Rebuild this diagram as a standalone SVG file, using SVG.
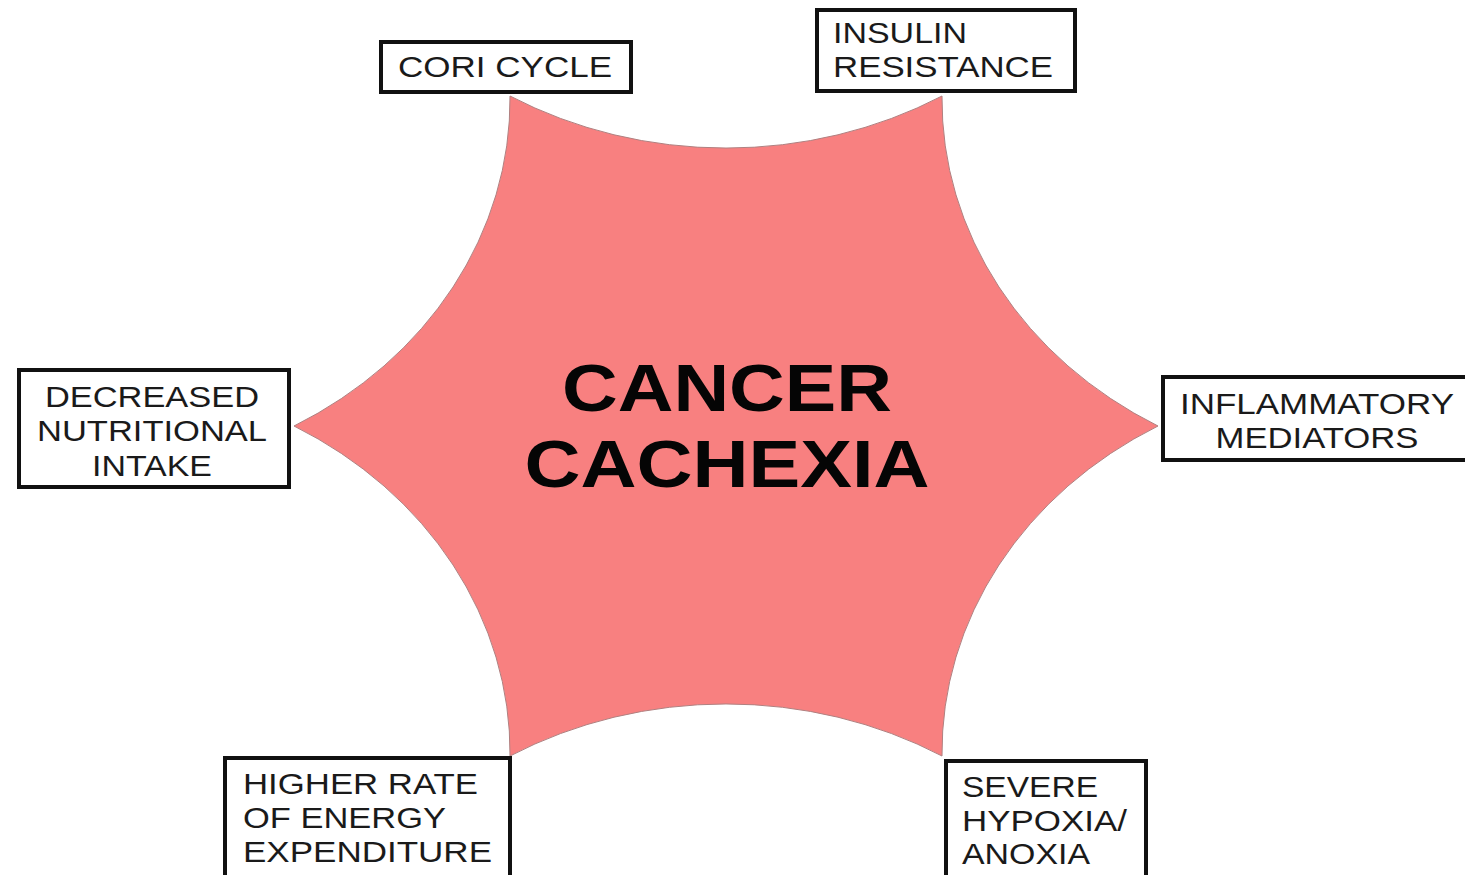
<svg xmlns="http://www.w3.org/2000/svg" width="1465" height="875" viewBox="0 0 1465 875">
  <style>
    .box { fill: #ffffff; stroke: #111111; stroke-width: 4; }
    .lbl { font-family: "Liberation Sans", Arial, sans-serif; font-size: 30px; fill: #1a1a1a; }
    .mid { text-anchor: middle; }
    .title { font-family: "Liberation Sans", Arial, sans-serif; font-size: 66px; font-weight: bold; fill: #050505; text-anchor: middle; }
  </style>
  <rect width="1465" height="875" fill="#ffffff"/>
  <g id="cancer-cachexia">
    <path d="M510,96 A425,375 0 0 0 942,96 A425,375 0 0 0 1158,426 A425,375 0 0 0 942,756 A425,375 0 0 0 510,756 A425,375 0 0 0 294,426 A425,375 0 0 0 510,96 Z" fill="#F88080" stroke="#b08080" stroke-width="1"/>
    <text class="title" x="727" y="411" textLength="330" lengthAdjust="spacingAndGlyphs">CANCER</text>
    <text class="title" x="727" y="487" textLength="405" lengthAdjust="spacingAndGlyphs">CACHEXIA</text>
  </g>
  <g id="connectors"></g>
  <g id="cori-cycle">
    <rect class="box" x="381" y="42" width="250" height="50"/>
    <text class="lbl mid" x="505" y="77" textLength="214" lengthAdjust="spacingAndGlyphs">CORI CYCLE</text>
  </g>
  <g id="insulin-resistance">
    <rect class="box" x="817" y="10" width="258" height="81"/>
    <text class="lbl" x="833" y="43" textLength="134" lengthAdjust="spacingAndGlyphs">INSULIN</text>
    <text class="lbl" x="833" y="77" textLength="220" lengthAdjust="spacingAndGlyphs">RESISTANCE</text>
  </g>
  <g id="decreased-nutritional-intake">
    <rect class="box" x="19" y="370" width="270" height="117"/>
    <text class="lbl mid" x="152" y="407" textLength="214" lengthAdjust="spacingAndGlyphs">DECREASED</text>
    <text class="lbl mid" x="152" y="441" textLength="230" lengthAdjust="spacingAndGlyphs">NUTRITIONAL</text>
    <text class="lbl mid" x="152" y="476" textLength="120" lengthAdjust="spacingAndGlyphs">INTAKE</text>
  </g>
  <g id="inflammatory-mediators">
    <rect class="box" x="1163" y="377" width="310" height="83"/>
    <text class="lbl mid" x="1317" y="414" textLength="274" lengthAdjust="spacingAndGlyphs">INFLAMMATORY</text>
    <text class="lbl mid" x="1317" y="448" textLength="203" lengthAdjust="spacingAndGlyphs">MEDIATORS</text>
  </g>
  <g id="higher-rate-energy">
    <rect class="box" x="225" y="758" width="285" height="130"/>
    <text class="lbl" x="243" y="794" textLength="235" lengthAdjust="spacingAndGlyphs">HIGHER RATE</text>
    <text class="lbl" x="243" y="828" textLength="203" lengthAdjust="spacingAndGlyphs">OF ENERGY</text>
    <text class="lbl" x="243" y="862" textLength="249" lengthAdjust="spacingAndGlyphs">EXPENDITURE</text>
  </g>
  <g id="severe-hypoxia">
    <rect class="box" x="946" y="761" width="200" height="130"/>
    <text class="lbl" x="962" y="797" textLength="136" lengthAdjust="spacingAndGlyphs">SEVERE</text>
    <text class="lbl" x="962" y="831" textLength="165" lengthAdjust="spacingAndGlyphs">HYPOXIA/</text>
    <text class="lbl" x="962" y="864" textLength="128" lengthAdjust="spacingAndGlyphs">ANOXIA</text>
  </g>
</svg>
